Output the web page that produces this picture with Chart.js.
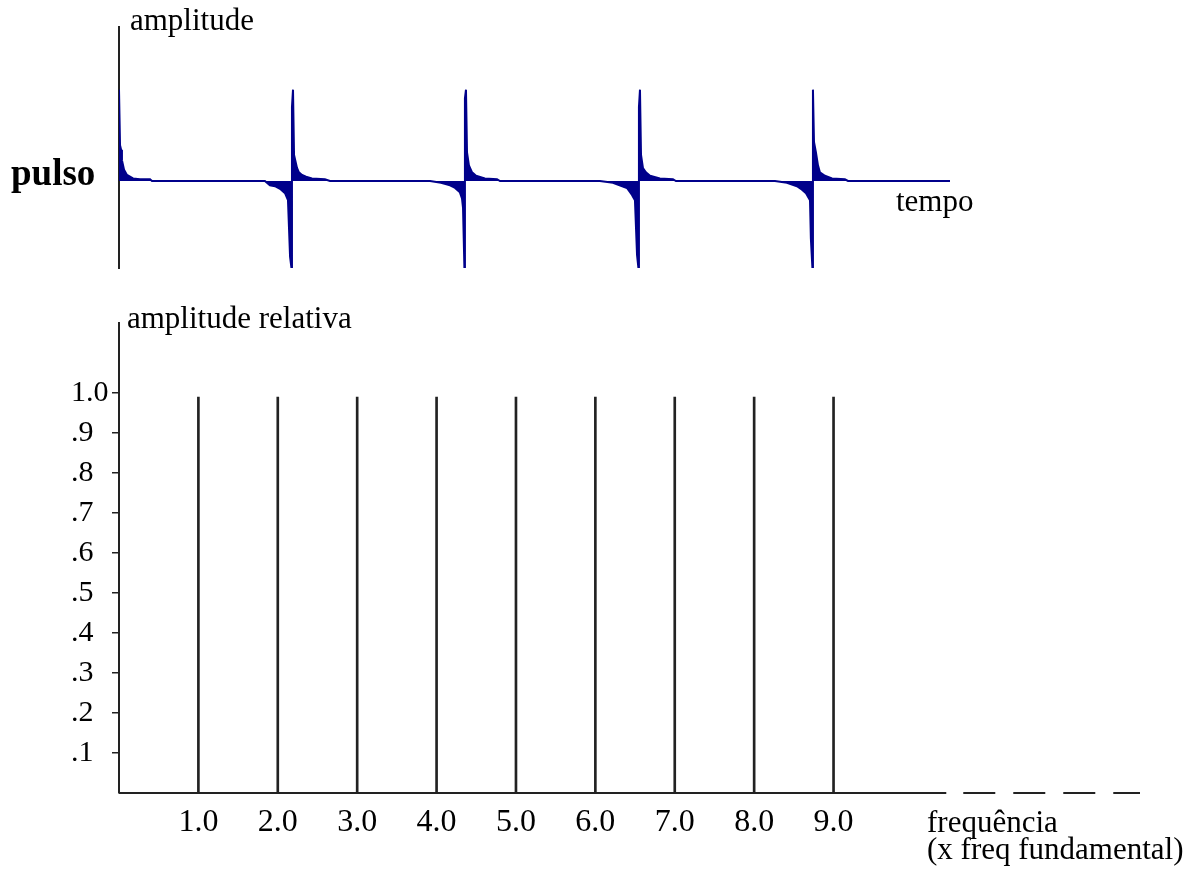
<!DOCTYPE html>
<html>
<head>
<meta charset="utf-8">
<script src="https://cdn.jsdelivr.net/npm/chart.js@4.4.0/dist/chart.umd.min.js"></script>
<style>
  html, body { margin: 0; padding: 0; background: #fff; }
  #wrap { position: relative; width: 1198px; height: 870px; font-family: "Liberation Serif", "Times New Roman", serif; color: #000; }
  .lbl { position: absolute; line-height: 1; white-space: nowrap; font-size: 31px; }
  canvas { position: absolute; left: 0; }
</style>
</head>
<body>
<div id="wrap">
  <canvas id="pulseChart" width="1198" height="290" style="top:0"></canvas>
  <canvas id="specChart" width="1198" height="580" style="top:290px"></canvas>
  <div class="lbl" style="left:130px;top:4px">amplitude</div>
  <div class="lbl" style="left:11px;top:154px;font-size:37px;font-weight:bold">pulso</div>
  <div class="lbl" style="left:896px;top:185px">tempo</div>
  <div class="lbl" style="left:127px;top:302px">amplitude relativa</div>
  <div class="lbl" style="left:927px;top:806px">frequência</div>
  <div class="lbl" style="left:927px;top:833px">(x freq fundamental)</div>
</div>
<script>
// pulse train (time in periods, amplitude relative to the negative peak)
const pulseTime = [
  0, 0.006, 0.012, 0.017, 0.029, 0.046, 0.081, 0.121, 0.179, 0.19,
  0.841, 0.870, 0.899, 0.928, 0.957, 0.974, 0.986, 0.994, 0.997, 1.003, 1.009, 1.026, 1.037, 1.055, 1.078, 1.112, 1.187, 1.216,
  1.793, 1.856, 1.908, 1.937, 1.965, 1.977, 1.983, 1.991, 1.994, 2.0, 2.006, 2.017, 2.035, 2.058, 2.109, 2.179, 2.196,
  2.772, 2.847, 2.928, 2.957, 2.974, 2.986, 2.994, 2.997, 3.003, 3.009, 3.020, 3.037, 3.061, 3.118, 3.193, 3.210,
  3.781, 3.850, 3.908, 3.937, 3.960, 3.983, 3.988, 3.997, 4.0, 4.006, 4.017, 4.029, 4.040, 4.069, 4.110, 4.184, 4.202,
  4.79
];
const pulseAmp = [
  1.05, 0.41, 0.36, 0.24, 0.13, 0.07, 0.03, 0.02, 0.02, 0,
  0, -0.05, -0.06, -0.09, -0.14, -0.22, -0.87, -1.0, 0.85, 1.05, 0.30, 0.15, 0.10, 0.07, 0.05, 0.03, 0.02, 0,
  0, -0.02, -0.05, -0.08, -0.13, -0.20, -0.31, -1.0, 0.95, 1.05, 0.33, 0.18, 0.10, 0.06, 0.03, 0.02, 0,
  0, -0.02, -0.08, -0.16, -0.22, -0.85, -1.0, 0.85, 1.05, 0.30, 0.15, 0.10, 0.06, 0.03, 0.02, 0,
  0, -0.02, -0.06, -0.10, -0.14, -0.22, -0.66, -1.0, 1.05, 0.45, 0.33, 0.18, 0.10, 0.06, 0.03, 0.02, 0,
  0
];

// spectrum
const harmonics = [1, 2, 3, 4, 5, 6, 7, 8, 9];
const harmonicAmp = [0.99, 0.99, 0.99, 0.99, 0.99, 0.99, 0.99, 0.99, 0.99];
const ampTicks = [0.1, 0.2, 0.3, 0.4, 0.5, 0.6, 0.7, 0.8, 0.9, 1.0];

const navy = "#00008b";
const ink = "#222";
const solidAxisEnd = 10.42;

new Chart(document.getElementById("pulseChart"), {
  type: "line",
  data: {
    datasets: [{
      data: pulseTime.map((t, i) => ({ x: t, y: pulseAmp[i] })),
      borderColor: navy,
      backgroundColor: navy,
      borderWidth: 2,
      fill: "origin",
      pointRadius: 0,
      tension: 0,
    }],
  },
  options: {
    responsive: false,
    animation: false,
    layout: { padding: { left: 119, top: 27, right: 248, bottom: 22 } },
    plugins: { legend: { display: false }, tooltip: { enabled: false } },
    scales: {
      x: { type: "linear", min: 0, max: 4.79, display: false },
      y: {
        min: -1, max: 1.77,
        ticks: { display: false },
        grid: { display: false },
        border: { display: true, color: ink, width: 2 },
        afterFit: (s) => { s.width = 0; },
      },
    },
  },
});

const axisTail = {
  id: "axisTail",
  beforeDatasetsDraw(chart) {
    const { ctx, chartArea, scales: { x, y } } = chart;
    const y0 = y.getPixelForValue(0);
    const xs = x.getPixelForValue(0);
    const xe = x.getPixelForValue(solidAxisEnd);
    ctx.save();
    ctx.strokeStyle = ink;
    ctx.lineWidth = 2;
    ctx.beginPath();
    ctx.moveTo(xs, y0);
    ctx.lineTo(xe, y0);
    ctx.stroke();
    ctx.setLineDash([32, 18]);
    ctx.beginPath();
    ctx.moveTo(xe + 17, y0);
    ctx.lineTo(chartArea.right, y0);
    ctx.stroke();
    ctx.restore();
  },
};

new Chart(document.getElementById("specChart"), {
  type: "bar",
  data: {
    datasets: [{
      data: harmonics.map((h, i) => ({ x: h, y: harmonicAmp[i] })),
      backgroundColor: ink,
      barThickness: 2,
    }],
  },
  options: {
    responsive: false,
    animation: false,
    layout: { padding: { left: 71, top: 33, right: 58, bottom: 7 } },
    plugins: { legend: { display: false }, tooltip: { enabled: false } },
    scales: {
      x: {
        type: "linear", min: 0, max: 12.86, offset: false,
        grid: { display: false, drawTicks: false },
        border: { display: false },
        afterBuildTicks: (s) => { s.ticks = harmonics.map((v) => ({ value: v })); },
        ticks: {
          color: "#000",
          padding: 10,
          maxRotation: 0,
          font: { family: "Liberation Serif", size: 32 },
          callback: (v) => Number(v).toFixed(1),
        },
        afterFit: (s) => { s.height = 70; },
      },
      y: {
        min: 0, max: 1.175,
        afterBuildTicks: (s) => { s.ticks = ampTicks.map((v) => ({ value: v })); },
        ticks: {
          color: "#000",
          crossAlign: "far",
          font: { family: "Liberation Serif", size: 30 },
          callback: (v) => (v >= 1 ? "1.0" : "." + Math.round(v * 10)),
        },
        grid: { drawOnChartArea: false, drawTicks: true, tickLength: 7, color: ink, lineWidth: 1.5 },
        border: { display: true, color: ink, width: 2 },
        afterFit: (s) => { s.width = 48; },
      },
    },
  },
  plugins: [axisTail],
});
</script>
</body>
</html>
